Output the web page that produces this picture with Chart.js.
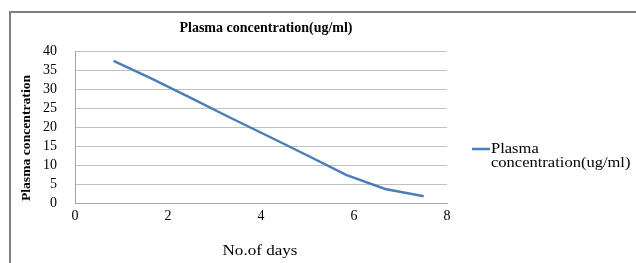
<!DOCTYPE html>
<html>
<head>
<meta charset="utf-8">
<script src="https://cdn.jsdelivr.net/npm/chart.js@4/dist/chart.umd.min.js"></script>
<style>
body{margin:0;background:#fff;overflow:hidden;}
#wrap{position:relative;width:636px;height:263px;}
#frame{position:absolute;left:9px;top:11px;width:700px;height:300px;border-left:2px solid #7f7f7f;border-top:2px solid #7f7f7f;}
canvas{position:absolute;left:0;top:0;}
</style>
</head>
<body>
<div id="wrap">
<div id="frame"></div>
<canvas id="plasma-chart" width="636" height="263"></canvas>
</div>
<script>
// values
var days = [0.83, 1.67, 2.5, 3.33, 4.17, 5, 5.83, 6.67, 7.5];
var conc = [37.4, 32.6, 27.6, 22.5, 17.5, 12.5, 7.4, 3.7, 1.8];
var yTicks = [0, 5, 10, 15, 20, 25, 30, 35, 40];
var xTicks = [0, 2, 4, 6, 8];
var seriesName = "Plasma concentration(ug/ml)";
var legendLines = ["Plasma", "concentration(ug/ml)"];
var xTitle = "No.of days";
var yTitle = "Plasma concentration";

var lineColor = "#4a7ebb";
var serif = "'Liberation Serif','DejaVu Serif',serif";

var pts = [];
for (var i = 0; i < days.length; i++) {
	pts.push({x: days[i], y: conc[i]});
}

// text a bit wider than the font, like the picture
function txt(ctx, s, x, y, font, sx, align, base, rot){
	ctx.save();
	ctx.translate(x, y);
	if (rot) ctx.rotate(rot);
	ctx.scale(sx, 1);
	ctx.font = font;
	ctx.fillStyle = "#000";
	ctx.textAlign = align;
	ctx.textBaseline = base;
	ctx.fillText(s, 0, 0);
	ctx.restore();
}

var extras = {
	id: "extras",
	afterDraw: function(chart){
		var ctx = chart.ctx;
		txt(ctx, seriesName, 266, 28, "bold 14px " + serif, 1, "center", "middle");
		txt(ctx, yTitle, 27, 138, "bold 13px " + serif, 1.05, "center", "middle", -Math.PI/2);
		txt(ctx, xTitle, 260, 251, "14px " + serif, 1.22, "center", "middle");
		ctx.save();
		ctx.strokeStyle = lineColor;
		ctx.lineWidth = 2.5;
		ctx.beginPath();
		ctx.moveTo(472, 149);
		ctx.lineTo(490, 149);
		ctx.stroke();
		ctx.restore();
		txt(ctx, legendLines[0], 491, 152.5, "14px " + serif, 1.18, "left", "alphabetic");
		txt(ctx, legendLines[1], 491, 167, "14px " + serif, 1.18, "left", "alphabetic");
	}
};

new Chart(document.getElementById("plasma-chart"), {
	type: "scatter",
	data: {
		datasets: [{
			label: seriesName,
			data: pts,
			showLine: true,
			borderColor: lineColor,
			backgroundColor: lineColor,
			borderWidth: 2.5,
			pointRadius: 0,
			tension: 0
		}]
	},
	options: {
		responsive: false,
		animation: false,
		layout: {padding: {left: 18, right: 189, top: 51, bottom: 0}},
		plugins: {
			legend: {display: false},
			title: {display: false},
			tooltip: {enabled: false}
		},
		scales: {
			x: {
				type: "linear",
				min: 0, max: 8,
				afterBuildTicks: function(s){ s.ticks = xTicks.map(function(v){ return {value: v}; }); },
				afterFit: function(s){ s.height = 60; },
				grid: {display: false, drawTicks: false},
				border: {color: "#a6a6a6", width: 1},
				ticks: {color: "#000", padding: 5, autoSkip: false, font: {family: serif, size: 14}, maxRotation: 0},
				title: {display: false}
			},
			y: {
				min: 0, max: 40,
				afterBuildTicks: function(s){ s.ticks = yTicks.map(function(v){ return {value: v}; }); },
				afterFit: function(s){ s.width = 57; },
				grid: {color: "#c0c0c0", drawTicks: false},
				border: {color: "#a6a6a6", width: 1},
				ticks: {color: "#000", padding: 18, autoSkip: false, font: {family: serif, size: 14}},
				title: {display: false}
			}
		}
	},
	plugins: [extras]
});
</script>
</body>
</html>
